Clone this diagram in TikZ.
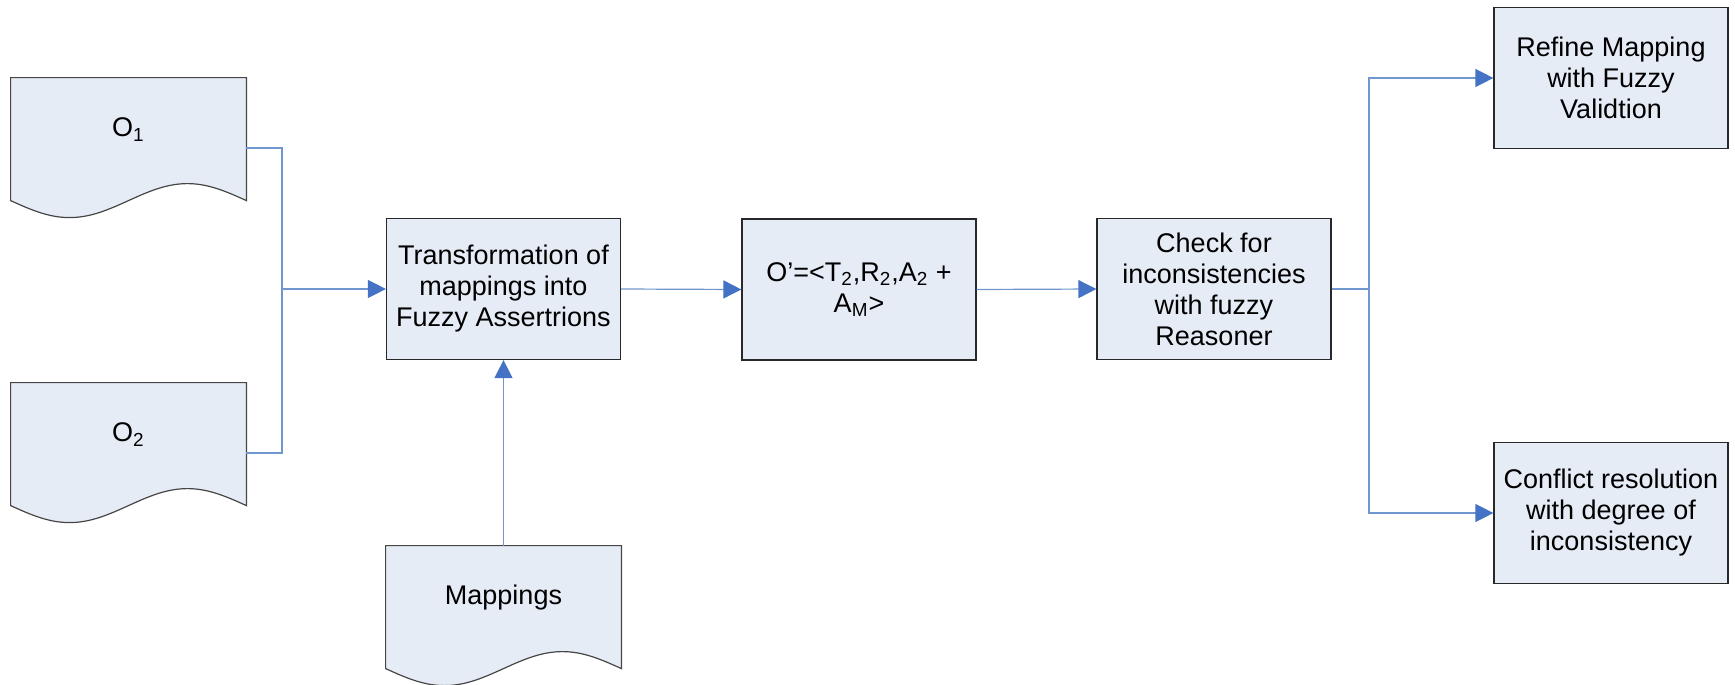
\documentclass[tikz,border=0pt]{standalone}
\usepackage{fontspec}
\setmainfont{Liberation Sans}
\usetikzlibrary{arrows.meta,calc}

\definecolor{boxfill}{RGB}{230,236,246}
\definecolor{boxline}{RGB}{40,40,40}
\definecolor{docline}{RGB}{70,70,70}
\definecolor{wire}{RGB}{112,150,206}
\definecolor{tipblue}{RGB}{68,114,196}

% outline of a "document" symbol built on a node's bounding box
\newcommand\docpath[1]{%
  (#1.north west) -- (#1.north east) -- ($(#1.north east)+(0,123)$)
  sin ($(#1.north west)!0.75!(#1.north east)+(0,106)$)
  cos ($(#1.north west)!0.5!(#1.north east)+(0,123)$)
  sin ($(#1.north west)!0.25!(#1.north east)+(0,140)$)
  cos ($(#1.north west)+(0,123)$) -- cycle}

\tikzset{
  txt/.style={align=center, text=black,
    font=\fontsize{13.5pt}{15.5pt}\selectfont},
  procbox/.style={txt, draw=boxline, fill=boxfill, line width=0.6pt,
    minimum width=117pt, minimum height=70.5pt, inner sep=0pt},
  docbox/.style={minimum width=117.5pt, minimum height=70pt, inner sep=0pt},
  docshape/.style={draw=docline, fill=boxfill, line width=0.6pt},
  wireline/.style={draw=wire, line width=0.6pt},
  flow/.style={wireline, -{Triangle[length=9pt,width=9pt,fill=tipblue,color=tipblue]}}
}

\begin{document}
\begin{tikzpicture}[x=0.5pt, y=-0.5pt]
\useasboundingbox (0,0) rectangle (1735,685);

% document symbols
\node[docbox] (o1) at (128.5,148) {};
\node[docbox] (o2) at (128.5,453) {};
\node[docbox] (map) at (503.5,616) {};
\path[docshape] \docpath{o1};
\path[docshape] \docpath{o2};
\path[docshape] \docpath{map};
\node[txt] (o1t) at ($(o1.north)+(0,52)$) {O\textsubscript{1}};
\node[txt] (o2t) at ($(o2.north)+(0,52)$) {O\textsubscript{2}};
\node[txt] (mapt) at ($(map.north)+(0,52)$) {Mappings};

% process boxes
\node[procbox] (trans) at (503.5,289) {Transformation of\\mappings into\\Fuzzy Assertrions};
\node[procbox] (oprime) at (859,289.5) {O’=<T\textsubscript{2},R\textsubscript{2},A\textsubscript{2} +\\A\textsubscript{M}>};
\node[procbox] (check) at (1214,289) {Check for\\inconsistencies\\with fuzzy\\Reasoner};
\node[procbox] (refine) at (1611,78) {Refine Mapping\\with Fuzzy\\Validtion};
\node[procbox] (conflict) at (1611,513) {Conflict resolution\\with degree of\\inconsistency};

% connectors
\coordinate (join) at (282,289);
\coordinate (split) at (1369,289);
\draw[wireline] (o1.east) -| (join);
\draw[wireline] (o2.east) -| (join);
\draw[flow] (join) -- (trans.west);
\draw[flow] (map.north) -- (trans.south);
\draw[flow] (trans.east) -- (oprime.west);
\draw[flow] (oprime.east) -- (check.west);
\draw[wireline] (check.east) -- (split);
\draw[flow] (split) |- (refine.west);
\draw[flow] (split) |- (conflict.west);
\end{tikzpicture}
\end{document}
